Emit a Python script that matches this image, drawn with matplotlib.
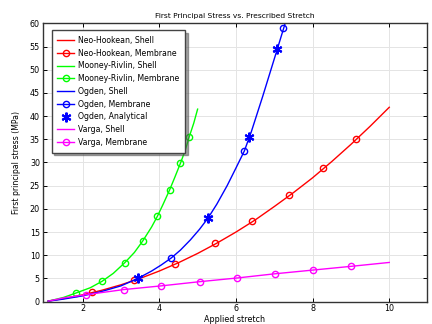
import numpy as np
import matplotlib
matplotlib.use("Agg")
import matplotlib.pyplot as plt
from matplotlib.lines import Line2D


# shell curves (stretch, first principal stress in MPa)
neo_x = [1.1, 1.5, 2.0, 2.5, 3.0, 3.5, 4.0, 4.5, 5.0, 5.5, 6.0, 6.5, 7.0, 7.5, 8.0, 8.5, 9.0, 9.5, 10.0]
neo_y = [0.13, 0.66, 1.47, 2.45, 3.63, 5.01, 6.6, 8.39, 10.39, 12.6, 15.0, 17.6, 20.5, 23.5, 26.7, 30.2, 33.9, 37.8, 41.9]

mr_x = [1.1, 1.5, 1.84, 2.2, 2.51, 2.8, 3.1, 3.35, 3.57, 3.8, 3.95, 4.1, 4.27, 4.4, 4.55, 4.68, 4.78, 4.9, 5.0]
mr_y = [0.1, 0.9, 1.9, 3.0, 4.4, 6.1, 8.4, 10.6, 13.1, 16.1, 18.4, 21.0, 24.1, 26.7, 29.8, 32.7, 35.5, 38.5, 41.5]

ogden_x = [1.1, 1.5, 2.0, 2.5, 3.0, 3.44, 3.8, 4.05, 4.31, 4.55, 4.81, 5.05, 5.27, 5.5, 5.77, 6.0, 6.22, 6.4, 6.7, 7.07, 7.24, 7.35]
ogden_y = [0.1, 0.55, 1.25, 2.2, 3.4, 5.0, 6.6, 7.9, 9.4, 11.1, 13.3, 15.6, 18.0, 21.0, 25.0, 28.8, 32.5, 36.6, 44.3, 54.2, 58.8, 61.8]

varga_x = [1.1, 1.5, 2.09, 3.07, 4.05, 5.05, 6.03, 7.01, 8.0, 8.99, 10.0]
varga_y = [0.1, 0.8, 1.5, 2.6, 3.4, 4.3, 5.1, 6.0, 6.8, 7.6, 8.45]

# membrane results and analytical values
neo_mem_x = [2.25, 3.35, 4.42, 5.45, 6.43, 7.38, 8.28, 9.14]
neo_mem_y = [2.0, 4.6, 8.1, 12.6, 17.4, 22.9, 28.9, 35.1]

mr_mem_x = [1.84, 2.51, 3.1, 3.57, 3.95, 4.27, 4.55, 4.78]
mr_mem_y = [1.9, 4.4, 8.4, 13.1, 18.4, 24.1, 29.8, 35.6]

ogden_mem_x = [4.31, 6.22, 7.24]
ogden_mem_y = [9.4, 32.4, 58.9]

ogden_an_x = [3.44, 5.27, 6.35, 7.07]
ogden_an_y = [5.1, 18.0, 35.6, 54.5]

varga_mem_x = [2.09, 3.07, 4.05, 5.05, 6.03, 7.01, 8.0, 8.99]
varga_mem_y = [1.5, 2.6, 3.4, 4.3, 5.1, 6.0, 6.8, 7.6]

RED = "#ff0000"
GREEN = "#00ff00"
BLUE = "#0000ff"
MAGENTA = "#ff00ff"
STAR = (6, 2, 0)

fig = plt.figure(figsize=(4.32, 3.24), dpi=100)
ax = fig.add_axes([0.099, 0.069, 0.889, 0.859])

ax.plot(neo_x, neo_y, color=RED, lw=1)
ax.plot(neo_mem_x, neo_mem_y, ls="none", marker="o", ms=4.5, mfc="none", mec=RED, mew=1)
ax.plot(mr_x, mr_y, color=GREEN, lw=1)
ax.plot(mr_mem_x, mr_mem_y, ls="none", marker="o", ms=4.5, mfc="none", mec=GREEN, mew=1)
ax.plot(ogden_x, ogden_y, color=BLUE, lw=1)
ax.plot(ogden_mem_x, ogden_mem_y, ls="none", marker="o", ms=4.5, mfc="none", mec=BLUE, mew=1)
ax.plot(ogden_an_x, ogden_an_y, ls="none", marker=STAR, ms=7, color=BLUE, mew=1.5)
ax.plot(varga_x, varga_y, color=MAGENTA, lw=1)
ax.plot(varga_mem_x, varga_mem_y, ls="none", marker="o", ms=4.5, mfc="none", mec=MAGENTA, mew=1)

ax.set_xlim(0.96, 10.98)
ax.set_ylim(0, 60)
ax.set_xticks([2, 4, 6, 8, 10])
ax.set_yticks(np.arange(0, 61, 5))
ax.grid(True, color="#e4e4e4", lw=0.7)
ax.set_axisbelow(True)
ax.tick_params(direction="in", top=True, right=True, labelsize=5.8, length=3, width=0.7, pad=2)
for s in ax.spines.values():
    s.set_linewidth(1.0)
    s.set_color("#333333")

ax.set_title("First Principal Stress vs. Prescribed Stretch", fontsize=5.4, pad=4)
ax.set_xlabel("Applied stretch", fontsize=5.8, labelpad=1)
ax.set_ylabel("First principal stress (MPa)", fontsize=5.6, labelpad=6)

# legend entries: shell = line, membrane = line + circle
def mem(c):
    return Line2D([], [], color=c, lw=1, marker="o", ms=4.5, mfc="none", mec=c)

handles = [
    Line2D([], [], color=RED, lw=1), mem(RED),
    Line2D([], [], color=GREEN, lw=1), mem(GREEN),
    Line2D([], [], color=BLUE, lw=1), mem(BLUE),
    Line2D([], [], ls="none", marker=STAR, ms=7, color=BLUE, mew=1.5),
    Line2D([], [], color=MAGENTA, lw=1), mem(MAGENTA),
]
labels = ["Neo-Hookean, Shell", "Neo-Hookean, Membrane", "Mooney-Rivlin, Shell",
          "Mooney-Rivlin, Membrane", "Ogden, Shell", "Ogden, Membrane",
          "Ogden, Analytical", "Varga, Shell", "Varga, Membrane"]
leg = ax.legend(handles, labels, loc="upper left", bbox_to_anchor=(0.023, 0.976),
                borderaxespad=0, fontsize=5.6, fancybox=False, shadow=True,
                framealpha=1, edgecolor="#444444", handlelength=2.1,
                handletextpad=0.5, labelspacing=0.48, borderpad=0.75)
leg.get_frame().set_linewidth(1.0)

fig.savefig("out.png", dpi=100)
